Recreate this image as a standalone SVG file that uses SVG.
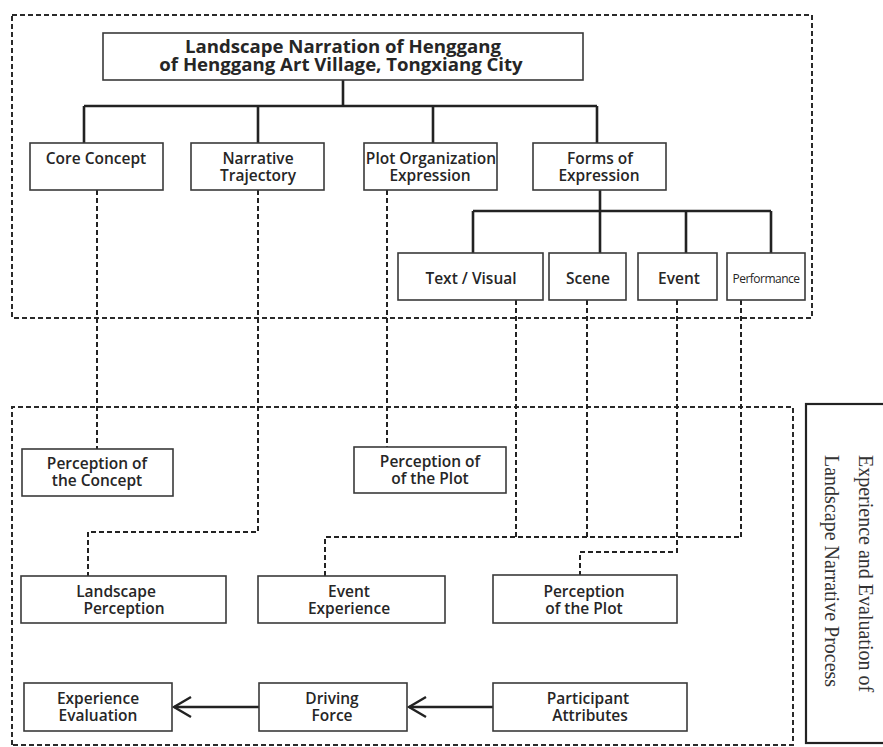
<svg xmlns="http://www.w3.org/2000/svg" width="883" height="747" viewBox="0 0 883 747">
<defs>
<style>
.box{fill:#fff;stroke:#3a3a3a;stroke-width:1.6}
.frame{fill:none;stroke:#2a2a2a;stroke-width:2;stroke-dasharray:5 3}
.solid{fill:none;stroke:#222;stroke-width:2.6}
.dash{fill:none;stroke:#222;stroke-width:2;stroke-dasharray:5 3}
.arrow{fill:none;stroke:#222;stroke-width:2.4}
text{font-family:"Open Sans","Noto Sans",sans-serif;font-size:15.5px;font-weight:600;fill:#262626;text-anchor:middle}
.title{font-size:18.6px;font-weight:700}
.small{font-size:12px;font-weight:500;letter-spacing:-0.5px}
.side{font-family:"Liberation Serif","Times New Roman",serif;font-size:20px;font-weight:400;fill:#333;text-anchor:start}
</style>
<marker id="open" markerUnits="userSpaceOnUse" markerWidth="26" markerHeight="26" refX="23" refY="12" orient="auto" viewBox="0 0 26 26">
<path d="M6,2 L23,12 L6,22" fill="none" stroke="#222" stroke-width="2.4"/>
</marker>
</defs>
<rect width="883" height="747" fill="#fff"/>

<g id="frames">
<rect class="frame" x="12" y="15" width="800" height="303"/>
<path class="frame" d="M12,745 V407 H793 V745 H12"/>
</g>

<g id="connectors">
<path class="solid" d="M343,80 V106 M84,106 H597 M84,106 V143 M258,106 V143 M433,106 V143 M597,106 V143"/>
<path class="solid" d="M600,190 V211 M473,211 H771 M473,211 V253 M600,211 V253 M686,211 V253 M771,211 V253"/>
<path class="dash" d="M97,190 V449"/>
<path class="dash" d="M258,190 V532 H88 V576"/>
<path class="dash" d="M387,190 V447"/>
<path class="dash" d="M516,300 V537 M587,300 V537 M741,300 V537 M325,576 V537 H741"/>
<path class="dash" d="M677,300 V552 H580 V575"/>
<path class="arrow" d="M259,707 H174" marker-end="url(#open)"/>
<path class="arrow" d="M493,707 H409" marker-end="url(#open)"/>
</g>

<g id="n-title">
<rect class="box" x="103" y="33" width="480" height="47"/>
<text class="title" x="343" y="53">Landscape Narration of Henggang</text>
<text class="title" x="341" y="71">of Henggang Art Village, Tongxiang City</text>
</g>
<g id="n-core">
<rect class="box" x="30" y="143" width="133" height="47"/>
<text x="96" y="164">Core Concept</text>
</g>
<g id="n-trajectory">
<rect class="box" x="191" y="143" width="133" height="47"/>
<text x="258" y="164">Narrative</text>
<text x="258" y="181">Trajectory</text>
</g>
<g id="n-plotorg">
<rect class="box" x="364" y="143" width="133" height="47"/>
<text x="431" y="164">Plot Organization</text>
<text x="430" y="181">Expression</text>
</g>
<g id="n-forms">
<rect class="box" x="533" y="143" width="133" height="47"/>
<text x="600" y="164">Forms of</text>
<text x="599" y="181">Expression</text>
</g>
<g id="n-text">
<rect class="box" x="398" y="253" width="145" height="47"/>
<text x="471" y="284">Text / Visual</text>
</g>
<g id="n-scene">
<rect class="box" x="549" y="253" width="77" height="47"/>
<text x="588" y="284">Scene</text>
</g>
<g id="n-event">
<rect class="box" x="638" y="253" width="79" height="47"/>
<text x="679" y="284">Event</text>
</g>
<g id="n-performance">
<rect class="box" x="727" y="253" width="78" height="47"/>
<text class="small" x="766" y="283">Performance</text>
</g>

<g id="n-percconcept">
<rect class="box" x="22" y="449" width="151" height="47"/>
<text x="97" y="469">Perception of</text>
<text x="97" y="486">the Concept</text>
</g>
<g id="n-percplot1">
<rect class="box" x="354" y="447" width="152" height="46"/>
<text x="430" y="467">Perception of</text>
<text x="430" y="484">of the Plot</text>
</g>
<g id="n-landscape">
<rect class="box" x="21" y="576" width="205" height="47"/>
<text x="116" y="597">Landscape</text>
<text x="124" y="614">Perception</text>
</g>
<g id="n-eventexp">
<rect class="box" x="258" y="576" width="187" height="47"/>
<text x="349" y="597">Event</text>
<text x="349" y="614">Experience</text>
</g>
<g id="n-percplot2">
<rect class="box" x="493" y="575" width="184" height="48"/>
<text x="584" y="597">Perception</text>
<text x="584" y="614">of the Plot</text>
</g>
<g id="n-evaluation">
<rect class="box" x="24" y="683" width="148" height="48"/>
<text x="98" y="704">Experience</text>
<text x="98" y="721">Evaluation</text>
</g>
<g id="n-driving">
<rect class="box" x="259" y="683" width="148" height="48"/>
<text x="332" y="704">Driving</text>
<text x="332" y="721">Force</text>
</g>
<g id="n-participant">
<rect class="box" x="493" y="683" width="194" height="48"/>
<text x="588" y="704">Participant</text>
<text x="590" y="721">Attributes</text>
</g>

<g id="n-side">
<rect x="806" y="404" width="90" height="339" fill="#fff" stroke="#222" stroke-width="2.2"/>
<text class="side" transform="translate(859,455) rotate(90)">Experience and Evaluation of</text>
<text class="side" transform="translate(825,455) rotate(90)">Landscape Narrative Process</text>
</g>
</svg>
